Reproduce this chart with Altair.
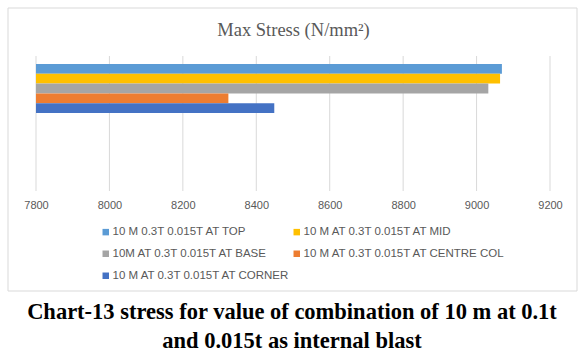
import altair as alt
import pandas as pd

series = [
    "10 M 0.3T 0.015T AT TOP",
    "10 M AT 0.3T 0.015T AT MID",
    "10M AT 0.3T 0.015T AT BASE",
    "10 M AT 0.3T 0.015T AT CENTRE COL",
    "10 M AT 0.3T 0.015T AT CORNER",
]
values = [9069, 9064, 9032, 8324, 8449]
colors = ["#5B9BD5", "#FFC000", "#A5A5A5", "#ED7D31", "#4472C4"]
x_ticks = [7800, 8000, 8200, 8400, 8600, 8800, 9000, 9200]
chart_title = "Max Stress (N/mm²)"
caption = ["Chart-13 stress for value of combination of 10 m at 0.1t",
           "and 0.015t as internal blast"]

# legend is laid out column by column: reorder so rows read TOP, MID / BASE, CENTRE / CORNER
legend_order = [0, 2, 4, 1, 3]
legend_domain = [series[i] for i in legend_order]
legend_range = [colors[i] for i in legend_order]

df = pd.DataFrame({"series": series, "value": values, "base": [x_ticks[0]] * len(series)})
ticks_df = pd.DataFrame({"tick": x_ticks})

W, H = 514, 135
xscale = alt.Scale(domain=[x_ticks[0], x_ticks[-1]], zero=False, nice=False)
xaxis = alt.Axis(values=x_ticks, title=None, grid=False, format="d",
                 domain=False, ticks=False, labelColor="#595959", labelFlush=False,
                 labelFont="Liberation Sans", labelFontSize=11, labelPadding=8,
                 labelBaseline="top")

frame = alt.Chart(pd.DataFrame({"a": [0]})).mark_rect(
    fillOpacity=0, stroke="#D9D9D9", strokeWidth=1, clip=False
).encode(x=alt.value(-28), x2=alt.value(541), y=alt.value(-48), y2=alt.value(235))

grid = alt.Chart(ticks_df).mark_rule(color="#D9D9D9", strokeWidth=1).encode(
    x=alt.X("tick:Q", scale=xscale, axis=xaxis),
    y=alt.value(0), y2=alt.value(H),
)

bars = alt.Chart(df).mark_bar(clip=False).encode(
    x=alt.X("value:Q", scale=xscale, axis=xaxis),
    x2="base:Q",
    y=alt.Y("series:N", sort=series, axis=None,
            scale=alt.Scale(range=[8, 57], paddingInner=0, paddingOuter=0)),
    color=alt.Color("series:N",
                    scale=alt.Scale(domain=legend_domain, range=legend_range),
                    legend=alt.Legend(title=None, orient="none", legendX=64, legendY=170,
                                      columns=2, columnPadding=0, rowPadding=9,
                                      symbolType="square", symbolSize=42, symbolStrokeWidth=0,
                                      labelFont="Liberation Sans", labelFontSize=11.5,
                                      labelColor="#595959", labelLimit=300, labelOffset=1)),
)

title_t = alt.Chart(pd.DataFrame({"t": [chart_title]})).mark_text(
    font="Liberation Serif", fontSize=18.5, color="#595959", baseline="alphabetic", align="center"
).encode(text="t:N", x=alt.value(257.5), y=alt.value(-20))

cap = alt.Chart(pd.DataFrame({"t": caption, "i": [0, 1]})).mark_text(
    font="Liberation Serif", fontSize=22.5, fontWeight="bold", color="#000000",
    baseline="alphabetic", align="center"
).encode(text="t:N", x=alt.value(256),
         y=alt.Y("i:Q", axis=None, scale=alt.Scale(domain=[0, 1], range=[263, 292])))

chart = alt.layer(frame, grid, bars, title_t, cap).resolve_scale(y="independent").properties(
    width=W, height=H, autosize=alt.AutoSizeParams(type="none"),
    padding={"left": 36, "top": 56, "right": 32, "bottom": 165},
    background="white",
).configure_view(stroke=None)

chart.save("out.html", embed_options={"renderer": "svg", "actions": False})
